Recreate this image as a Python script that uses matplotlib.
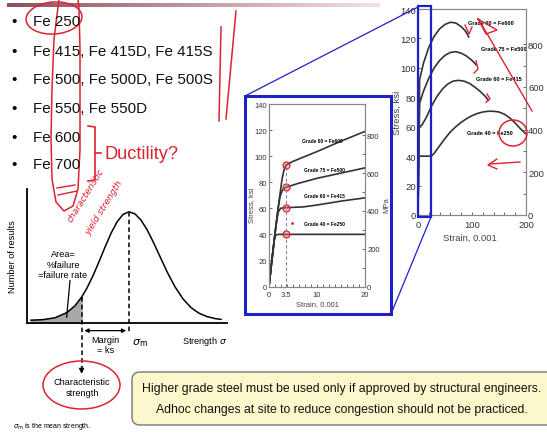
import numpy as np
import matplotlib
matplotlib.use('Agg')
import matplotlib.pyplot as plt
from matplotlib import font_manager
from matplotlib.patches import Rectangle, Ellipse, FancyBboxPatch
from matplotlib.ticker import FormatStrFormatter

W, H = 547, 439

# ---------------- data ----------------
grades = ['Fe 250', 'Fe 415, Fe 415D, Fe 415S', 'Fe 500, Fe 500D, Fe 500S',
          'Fe 550, Fe 550D', 'Fe 600', 'Fe 700']

# bell curve (strength and count in arbitrary axis units 0-100)
bell_x = [2, 8, 14, 20, 24, 27.3, 30, 33, 36, 39, 42, 45, 48, 51,
          54, 57, 60, 63, 66, 70, 74, 78, 82, 86, 90, 94, 97]
bell_y = [2.1, 2.5, 3.9, 7.8, 12.9, 19.3, 26.1, 35.3, 45.7, 56.6, 66.9, 75.4, 81.0, 83.0,
          81.4, 76.8, 69.7, 60.8, 51.2, 38.3, 27.0, 18.0, 11.5, 7.3, 4.8, 3.3, 2.7]
sigma_k = 27.3   # characteristic strength
sigma_m = 51     # mean strength

# zoomed stress-strain (strain x0.001, stress ksi)
mid_labels = ['Grade 90 = Fe600', 'Grade 75 = Fe500', 'Grade 60 = Fe415', 'Grade 40 = Fe250']
mid_g90_x = [0, 0.6, 1.1, 1.5, 1.9, 2.3, 2.7, 3.1, 3.5, 5, 7, 10, 15, 20]
mid_g90_y = [0, 20, 36, 48, 60, 71, 82, 89, 93, 96, 99, 103.5, 111.5, 119]
mid_g75_x = [0, 0.6, 1.1, 1.5, 1.9, 2.3, 2.8, 3.5, 6, 10, 15, 20]
mid_g75_y = [0, 20, 36, 48, 60, 69, 74, 76, 79, 83, 87, 91]
mid_g60_x = [0, 0.6, 1.1, 1.5, 1.9, 2.4, 3.5, 7, 10, 15, 20]
mid_g60_y = [0, 20, 36, 48, 57, 60, 60.5, 61, 62.5, 65.5, 68]
mid_g40_x = [0, 0.6, 1.1, 1.4, 2, 20]
mid_g40_y = [0, 20, 36, 39.5, 40, 40]
mid_label_xy = [(11.2, 112), (11.5, 90), (11.5, 70), (11.5, 48)]

# full stress-strain
full_g90_x = [0, 3, 10, 20, 30, 40, 50, 60, 70, 80, 88, 94]
full_g90_y = [0, 92, 103, 114, 121.5, 126.5, 129.5, 131, 130.5, 128, 125, 121]
full_g75_x = [0, 3, 10, 20, 30, 40, 50, 60, 70, 80, 90, 100, 108]
full_g75_y = [0, 76, 84, 93, 100, 105, 108.5, 110.5, 111, 110, 108, 105, 102]
full_g60_x = [0, 2, 7, 15, 25, 35, 45, 55, 65, 75, 85, 95, 105, 115, 125, 130]
full_g60_y = [0, 60, 61, 66, 74, 80.5, 85.5, 89, 91, 91.5, 91, 89.5, 87, 84, 80.5, 78]
full_g40_x = [0, 0.5, 25, 30, 40, 50, 60, 70, 80, 90, 100, 110, 120, 130, 140,
              150, 160, 170, 180, 190, 200]
full_g40_y = [0, 40, 40, 42, 47, 52, 56.5, 60, 63, 65.5, 67.5, 69, 70, 70.5, 70.5,
              70, 68.5, 66, 62.5, 58.5, 55]
full_label_xy = [(135, 131), (158, 113), (149, 92.5), (134, 56)]

KSI_TO_MPA = 6.895

# ---------------- fonts ----------------
names = {f.name for f in font_manager.fontManager.ttflist}
if 'Liberation Sans Narrow' in names:
    NARROW, k = 'Liberation Sans Narrow', 1.0
else:
    NARROW, k = 'Liberation Sans', 0.82
SANS = 'Liberation Sans'
plt.rcParams['font.family'] = [SANS, 'DejaVu Sans']

RED = '#dd2230'
BLUE = '#2020c8'

fig = plt.figure(figsize=(W / 100, H / 100), dpi=100)
fig.patch.set_facecolor('white')


def px_rect(x0, y0, x1, y1):
    return [x0 / W, 1 - y1 / H, (x1 - x0) / W, (y1 - y0) / H]


# ---------------- bell curve ----------------
axn = fig.add_axes(px_rect(27, 190, 227, 324))
axn.plot(bell_x, bell_y, color='black', lw=1.1)
bx = np.array(bell_x)
by = np.array(bell_y)
m = bx <= sigma_k
axn.fill_between(bx[m], 0, by[m], color='#a8a8a8')
yk = np.interp(sigma_k, bx, by)
ym = np.interp(sigma_m, bx, by)
axn.plot([sigma_k, sigma_k], [yk, -36], ls=(0, (3, 2)), color='black', lw=1.1, clip_on=False)
axn.annotate('', xy=(sigma_k, -40), xytext=(sigma_k, -32),
             arrowprops=dict(arrowstyle='-|>', color='black', lw=1, mutation_scale=7),
             annotation_clip=False)
axn.plot([sigma_m, sigma_m], [ym, -7], ls=(0, (3, 2)), color='black', lw=1.1, clip_on=False)
axn.annotate('', xy=(sigma_k, -5.7), xytext=(sigma_m, -5.7),
             arrowprops=dict(arrowstyle='<|-|>', color='black', lw=0.9, mutation_scale=6),
             annotation_clip=False)
axn.text((sigma_k + sigma_m) / 2, -16, 'Margin\n= ks', ha='center', va='center',
         fontsize=8 * k, family=NARROW, linespacing=1.1)
axn.text(sigma_m + 1.5, -14.5, r'$\sigma_{\rm m}$', ha='left', va='center', fontsize=8)
axn.text(89, -13.4, r'Strength $\sigma$', ha='center', va='center', fontsize=8 * k, family=NARROW)
axn.text(18, 44, 'Area=\n%failure\n=failure rate', ha='center', va='center',
         fontsize=8 * k, family=NARROW, linespacing=1.15)
axn.plot([21.5, 19.8], [31.6, 4.3], color='black', lw=0.9)
axn.set_xlim(0, 100)
axn.set_ylim(0, 100)
axn.set_xticks([])
axn.set_yticks([])
for s in ['top', 'right']:
    axn.spines[s].set_visible(False)
for s in ['left', 'bottom']:
    axn.spines[s].set_linewidth(1.3)
axn.set_ylabel('Number of results', fontsize=8 * k, family=NARROW)
axn.yaxis.set_label_coords(-0.05, 0.5)
axn.patch.set_alpha(0)


# ---------------- stress-strain charts ----------------
def stress_axes(rect, xmax, xmajor, xminor, fs, xpad):
    ax = fig.add_axes(rect)
    ax.set_xlim(0, xmax)
    ax.set_ylim(0, 140)
    ax.set_xticks(xmajor)
    ax.set_xticks(xminor, minor=True)
    ax.xaxis.set_major_formatter(FormatStrFormatter('%g'))
    ax.set_yticks(range(0, 141, 20))
    ax.tick_params(which='both', direction='in', length=2.5, width=0.6,
                   colors='#555', labelsize=fs, pad=1.5)
    ax.tick_params(which='both', labelcolor='#333')
    ax.tick_params(axis='x', pad=xpad)
    for s in ax.spines.values():
        s.set_color('#888')
        s.set_linewidth(0.8)
    tw = ax.twinx()
    tw.set_ylim(0, 140 * KSI_TO_MPA)
    tw.set_yticks([0, 200, 400, 600, 800])
    tw.set_yticks(range(100, 900, 200), minor=True)
    tw.tick_params(which='both', direction='in', length=2.5, width=0.6,
                   colors='#555', labelsize=fs, pad=1.5)
    tw.tick_params(which='both', labelcolor='#333')
    for s in tw.spines.values():
        s.set_color('#888')
        s.set_linewidth(0.8)
    return ax, tw


# zoomed chart
axm, twm = stress_axes(px_rect(269, 105, 365, 287.5), 20, [0, 3.5, 10, 20],
                       np.arange(0, 20.1, 1.25), 5.5, 3)
mid_curves = [(mid_g90_x, mid_g90_y), (mid_g75_x, mid_g75_y),
              (mid_g60_x, mid_g60_y), (mid_g40_x, mid_g40_y)]
for (cx, cy), lab, (lx, ly) in zip(mid_curves, mid_labels, mid_label_xy):
    axm.plot(cx, cy, color='#333', lw=1.2)
    axm.text(lx, ly, lab, fontsize=4.3 * k, family=NARROW, fontweight='bold',
             ha='center', va='center')
    y35 = np.interp(3.5, cx, cy)
    axm.plot([3.5], [y35], marker='o', ms=5, mfc=(1, 0.3, 0.3, 0.35), mec=RED, mew=0.9)
axm.plot([3.5, 3.5], [0, np.interp(3.5, mid_g90_x, mid_g90_y)], ls=(0, (3, 2)),
         color='#888', lw=0.8)
axm.plot([4.7], [49], marker='.', ms=2, color=RED)
axm.set_ylabel('Stress, ksi', fontsize=5.5, color='#444')
axm.yaxis.set_label_coords(-0.15, 0.45)
axm.set_xlabel('Strain, 0.001', fontsize=5.5, color='#444')
axm.xaxis.set_label_coords(0.5, -0.075)
twm.set_ylabel('MPa', fontsize=5.5, color='#444')
twm.yaxis.set_label_coords(1.19, 0.45)

# full chart
axf, twf = stress_axes(px_rect(418, 10, 526, 216), 200, [0, 100, 200],
                       np.arange(0, 201, 20), 6.8, 3.5)
full_curves = [(full_g90_x, full_g90_y), (full_g75_x, full_g75_y),
               (full_g60_x, full_g60_y), (full_g40_x, full_g40_y)]
for (cx, cy), lab, (lx, ly) in zip(full_curves, mid_labels, full_label_xy):
    axf.plot(cx, cy, color='#333', lw=1.2)
    axf.text(lx, ly, lab, fontsize=4.8 * k, family=NARROW, fontweight='bold',
             ha='center', va='center')
axf.set_ylabel('Stress, ksi', fontsize=6.8, color='#444')
axf.yaxis.set_label_coords(-0.15, 0.5)
axf.set_xlabel('Strain, 0.001', fontsize=6.8, color='#444')
axf.xaxis.set_label_coords(0.48, -0.085)

# ---------------- overlay (pixel coordinates) ----------------
ov = fig.add_axes([0, 0, 1, 1], zorder=10)
ov.patch.set_alpha(0)
ov.axis('off')

# title rule
c0 = np.array([140, 80, 92]) / 255
c1 = np.array([245, 225, 228]) / 255
t = np.linspace(0, 1, 200)[None, :, None]
grad = c0 + (c1 - c0) * t
ov.imshow(grad, extent=[7, 380, 8, 4], aspect='auto', interpolation='bilinear')

# bullet list
row_y = [21.7, 51.7, 80, 109.3, 138.3, 165]
for g, y in zip(grades, row_y):
    ov.text(14, y, '\u2022', fontsize=11, ha='center', va='center', family=SANS)
    ov.text(33, y, g, fontsize=13.3 * k, ha='left', va='center', family=NARROW, color='#111')

# red bracket + Ductility?
ov.plot([88, 95, 95, 88], [127, 128, 181, 182], color=RED, lw=1.2)
ov.plot([95, 101], [154, 154], color=RED, lw=1.2)
ov.text(104, 155, 'Ductility?', fontsize=16 * k, color=RED, family=NARROW,
        ha='left', va='center')

# red hand marks on the list
ov.add_patch(Ellipse((54, 19), 56, 32, angle=-4, fill=False, ec=RED, lw=1.1))
lx = [59, 54, 52, 51, 52, 56, 64, 73, 78, 80, 80, 80, 79, 78]
ly = [0, 40, 90, 140, 180, 203, 212, 207, 190, 150, 100, 50, 10, 0]
ov.plot(lx, ly, color=RED, lw=1.1)
ov.plot([57, 75], [189, 186], color=RED, lw=1)
ov.plot([58, 77], [196, 192], color=RED, lw=1)
ov.plot([221, 219], [28, 122], color=RED, lw=1.1)
ov.plot([236, 226], [12, 120], color=RED, lw=1.1)
ov.text(86, 196, 'characteristic', rotation=58, fontsize=6.5, color=RED,
        style='italic', ha='center', va='center', family='DejaVu Sans')
ov.text(104, 208, 'yield strength', rotation=58, fontsize=6.5, color=RED,
        style='italic', ha='center', va='center', family='DejaVu Sans')

# characteristic strength box
ov.add_patch(Ellipse((81.5, 386), 77, 48, fill=False, ec=RED, lw=1.1))
ov.text(82, 388, 'Characteristic\nstrength', fontsize=8 * k, family=NARROW,
        ha='center', va='center', linespacing=1.2)
ov.text(13, 427, r'$\sigma_{\rm m}$ is the mean strength.', fontsize=6.2 * k,
        family=NARROW, ha='left', va='center')

# yellow note
ov.add_patch(FancyBboxPatch((132, 373), 440, 53, boxstyle='round,pad=0,rounding_size=8',
                            fc='#fbf9cc', ec='#777', lw=1))
ov.text(341.5, 389, 'Higher grade steel must be used only if approved by structural engineers.',
        fontsize=8.8, family=NARROW, ha='center', va='center', color='#111')
ov.text(341.5, 410, 'Adhoc changes at site to reduce congestion should not be practiced.',
        fontsize=8.8, family=NARROW, ha='center', va='center', color='#111')

# blue zoom boxes
ov.add_patch(Rectangle((245, 97), 146, 218, fill=False, ec=BLUE, lw=2.2))
ov.add_patch(Rectangle((418, 7), 13, 211, fill=False, ec=BLUE, lw=1.6))
ov.plot([245, 418], [97, 8], color=BLUE, lw=0.9)
ov.plot([391, 431], [315, 218], color=BLUE, lw=0.9)

# red marks on full chart
ov.plot([465, 469, 472], [26, 35, 28], color=RED, lw=1)
ov.plot([476, 478, 474], [62, 70, 74], color=RED, lw=1)
ov.plot([487, 490, 486], [95, 100, 103], color=RED, lw=1)
ov.plot([478, 497, 486, 478], [20, 31, 35, 20], color=RED, lw=1)
ov.plot([482, 532], [26, 112], color=RED, lw=1)
ov.add_patch(Ellipse((513, 134), 28, 26, fill=False, ec=RED, lw=1.1))
ov.plot([520, 490], [163, 165], color=RED, lw=1)
ov.plot([497, 488, 497], [160, 166, 170], color=RED, lw=1)

ov.set_xlim(0, W)
ov.set_ylim(H, 0)

fig.savefig('out.png', dpi=100)
